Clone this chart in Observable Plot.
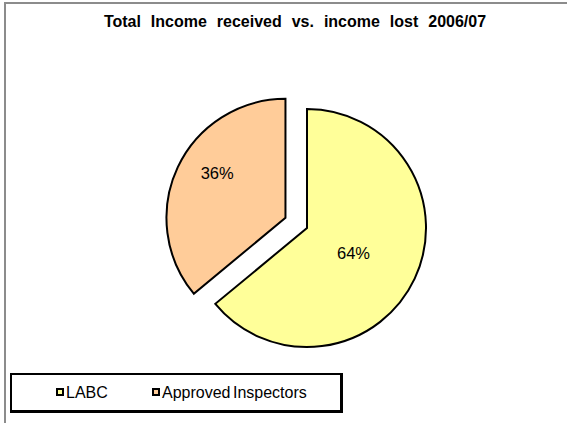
<!DOCTYPE html>
<html>
<head>
<meta charset="utf-8">
<script src="https://cdn.jsdelivr.net/npm/d3@7"></script>
<script src="https://cdn.jsdelivr.net/npm/@observablehq/plot@0.6"></script>
<style>
  html, body { margin: 0; padding: 0; background: #fff; }
  #wrap { position: relative; width: 567px; height: 423px; overflow: hidden; font-family: "Liberation Sans", Arial, sans-serif; }
  #frame { position: absolute; left: 4px; top: 2px; width: 600px; height: 500px; border: 2px solid #8c8c8c; box-sizing: border-box; }
  #title { position: absolute; left: 0; width: 590px; top: 13px; text-align: center; font-weight: bold; font-size: 16px; color: #000; white-space: nowrap; word-spacing: 5.5px; }
  #chart { position: absolute; left: 0; top: 0; }
  #legend { position: absolute; left: 10px; top: 373px; width: 333px; height: 40px; border: 2px solid #000; border-right-width: 3px; border-bottom-width: 3px; box-sizing: border-box; background: #fff; }
  .item { position: absolute; top: 9px; font-size: 16px; color: #000; white-space: nowrap; line-height: 18px; word-spacing: -2px; }
  .sw { display: inline-block; width: 4px; height: 4px; border: 2.5px solid #000; vertical-align: 2px; margin-right: 2px; }
</style>
</head>
<body>
<div id="wrap">
  <div id="frame"></div>
  <div id="chart"></div>
  <div id="title"></div>
  <div id="legend"></div>
</div>
<script>
const title = "Total Income received vs. income lost 2006/07";
const categories = ["LABC", "Approved Inspectors"];
const values = [64, 36];
const colors = ["#FFFF99", "#FFCC99"];
const exploded = [0, 0.2];            // offset as a fraction of the radius
const labelRadius = [0.44, 0.69];     // label distance as a fraction of the radius
const labelTurn = [0.058, 0.138];     // label angle shift (radians)

// layout (pixels)
const W = 567, H = 423, CX = 307, CY = 228, R = 119;

const total = d3.sum(values);
const arcs = d3.pie().sort(null)(values).map((a, i) => {
  const mid = (a.startAngle + a.endAngle) / 2;
  const la = mid + labelTurn[i];
  const ox = Math.sin(mid) * exploded[i];
  const oy = -Math.cos(mid) * exploded[i];
  return {
    ...a,
    i,
    name: categories[i],
    ox, oy,
    lx: ox + Math.sin(la) * labelRadius[i],
    ly: oy - Math.cos(la) * labelRadius[i],
    label: Math.round(values[i] / total * 100) + "%"
  };
});

function pieMark(index, scales) {
  const g = d3.create("svg:g");
  const rpx = scales.x(1) - scales.x(0);
  const arcGen = d3.arc().innerRadius(0).outerRadius(rpx);
  for (const a of arcs) {
    g.append("path")
      .attr("transform", `translate(${scales.x(a.ox)},${scales.y(a.oy)})`)
      .attr("d", arcGen(a))
      .attr("fill", colors[a.i])
      .attr("stroke", "#000")
      .attr("stroke-width", 2)
      .attr("stroke-linejoin", "miter");
  }
  return g.node();
}

const plot = Plot.plot({
  width: W,
  height: H,
  margin: 0,
  x: { domain: [-CX / R, (W - CX) / R], range: [0, W], axis: null },
  y: { domain: [-CY / R, (H - CY) / R], range: [0, H], axis: null },
  style: { background: "transparent", fontFamily: "'Liberation Sans', Arial, sans-serif" },
  marks: [
    pieMark,
    Plot.text(arcs, {
      x: "lx", y: "ly", text: "label",
      fontSize: 16.5, fill: "#000", textAnchor: "middle"
    })
  ]
});
document.getElementById("chart").appendChild(plot);
document.getElementById("title").textContent = title;

const legend = document.getElementById("legend");
const legendX = [44, 140];
categories.forEach((c, i) => {
  const it = document.createElement("div");
  it.className = "item";
  it.style.left = legendX[i] + "px";
  const sw = document.createElement("span");
  sw.className = "sw";
  sw.style.background = colors[i];
  it.appendChild(sw);
  it.appendChild(document.createTextNode(c));
  legend.appendChild(it);
});
</script>
</body>
</html>
